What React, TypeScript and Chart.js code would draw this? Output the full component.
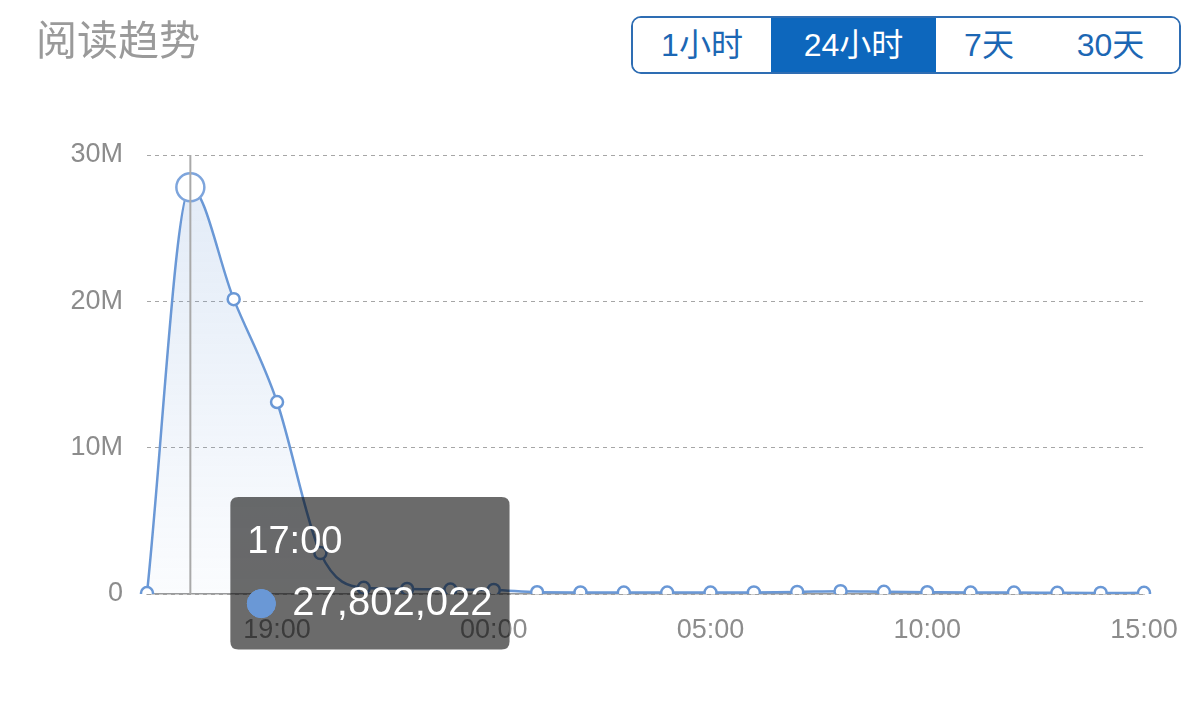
import React, { useEffect, useRef } from "react";
import { Chart, registerables, Tooltip } from "chart.js";

Chart.register(...registerables);

// ---- data ----
const hours = [
  "16:00", "17:00", "18:00", "19:00", "20:00", "21:00", "22:00", "23:00",
  "00:00", "01:00", "02:00", "03:00", "04:00", "05:00", "06:00", "07:00",
  "08:00", "09:00", "10:00", "11:00", "12:00", "13:00", "14:00", "15:00",
];
const readCounts = [
  60000, 27802022, 20150000, 13120000, 2800000, 420000, 350000, 300000,
  280000, 120000, 110000, 100000, 100000, 100000, 110000, 140000,
  190000, 150000, 120000, 100000, 100000, 80000, 70000, 80000,
];
const shownXLabels = ["19:00", "00:00", "05:00", "10:00", "15:00"];
const yTickValues = [0, 10000000, 20000000, 30000000];
const yTickLabels = ["0", "10M", "20M", "30M"];
const rangeButtons = ["1小时", "24小时", "7天", "30天"];
const activeRange = "24小时";
const activeIndex = 1;

const LINE = "#6a98d6";
const FONT = '"Liberation Sans", "Noto Sans CJK SC", sans-serif';

(Tooltip as any).positioners.besidePoint = function (elements: any[]) {
  if (!elements.length) return false;
  const el = elements[0].element;
  const ca = this.chart.chartArea;
  return { x: el.x + 40 + 8, y: ca.bottom - 97 };
};

const crosshair = {
  id: "crosshair",
  afterDatasetsDraw(chart: any) {
    const act = chart.getActiveElements();
    if (!act.length) return;
    const x = act[0].element.x;
    const { top, bottom } = chart.chartArea;
    const ctx = chart.ctx;
    ctx.save();
    ctx.strokeStyle = "#a9a9a9";
    ctx.lineWidth = 2;
    ctx.beginPath();
    ctx.moveTo(x, top);
    ctx.lineTo(x, bottom);
    ctx.stroke();
    ctx.restore();
  },
};

export default function App() {
  const ref = useRef<HTMLCanvasElement | null>(null);

  useEffect(() => {
    if (!ref.current) return;
    const chart = new Chart(ref.current, {
      type: "line",
      data: {
        labels: hours,
        datasets: [
          {
            label: "阅读",
            data: readCounts,
            borderColor: LINE,
            borderWidth: 2.5,
            fill: "origin",
            backgroundColor: (ctx: any) => {
              const c = ctx.chart;
              const ca = c.chartArea;
              if (!ca) return "rgba(106,152,214,0.1)";
              const g = c.ctx.createLinearGradient(0, ca.top, 0, ca.bottom);
              g.addColorStop(0, "rgba(106,152,214,0.2)");
              g.addColorStop(1, "rgba(106,152,214,0.03)");
              return g;
            },
            cubicInterpolationMode: "monotone",
            pointRadius: 6,
            pointBorderWidth: 2.5,
            pointBackgroundColor: "#ffffff",
            pointBorderColor: LINE,
            pointHoverRadius: 14,
            pointHoverBorderWidth: 2.5,
            pointHoverBackgroundColor: "#ffffff",
            pointHoverBorderColor: "#7ea5dc",
          } as any,
        ],
      },
      options: {
        responsive: true,
        maintainAspectRatio: false,
        animation: false,
        events: [],
        layout: { padding: { top: 155, right: 56, left: 0, bottom: 0 } },
        plugins: {
          legend: { display: false },
          title: { display: false },
          tooltip: {
            enabled: true,
            position: "besidePoint" as any,
            xAlign: "left",
            yAlign: "top",
            caretSize: 0,
            caretPadding: 0,
            cornerRadius: 8,
            backgroundColor: "rgba(0,0,0,0.58)",
            padding: { top: 23, bottom: 22, left: 17, right: 17 },
            titleFont: { family: FONT, size: 38, weight: "normal" },
            bodyFont: { family: FONT, size: 40 },
            titleColor: "#ffffff",
            bodyColor: "#ffffff",
            titleMarginBottom: 14,
            displayColors: true,
            usePointStyle: true,
            boxWidth: 28,
            boxHeight: 28,
            boxPadding: 15,
            multiKeyBackground: LINE,
            callbacks: {
              title: (items: any[]) => hours[items[0].dataIndex],
              label: (item: any) => readCounts[item.dataIndex].toLocaleString("en-US"),
              labelColor: () => ({ borderColor: LINE, backgroundColor: LINE }),
              labelPointStyle: () => ({ pointStyle: "circle", rotation: 0 }),
            },
          },
        },
        scales: {
          x: {
            type: "category",
            offset: false,
            afterFit: (s: any) => {
              s.height = 123;
            },
            grid: { display: false, drawTicks: false },
            border: { display: true, color: "#9a9a9a", width: 1.5 },
            ticks: {
              autoSkip: false,
              maxRotation: 0,
              minRotation: 0,
              padding: 20,
              color: "#8c8c8c",
              font: { family: FONT, size: 27 },
              callback: (_v: any, i: number) =>
                shownXLabels.includes(hours[i]) ? hours[i] : "",
            },
          },
          y: {
            min: 0,
            max: 30000000,
            afterFit: (s: any) => {
              s.width = 147;
            },
            afterBuildTicks: (s: any) => {
              s.ticks = yTickValues.map((v) => ({ value: v }));
            },
            grid: { color: "#a6a6a6", lineWidth: 1, drawTicks: false },
            border: { display: false, dash: [4, 4] },
            ticks: {
              padding: 24,
              color: "#8c8c8c",
              font: { family: FONT, size: 27 },
              callback: (v: any) => {
                const i = yTickValues.indexOf(Number(v));
                return i >= 0 ? yTickLabels[i] : "";
              },
            },
          },
        },
      } as any,
      plugins: [crosshair],
    });

    const act = [{ datasetIndex: 0, index: activeIndex }];
    chart.setActiveElements(act);
    chart.tooltip?.setActiveElements(act, { x: 0, y: 0 });
    chart.update();

    return () => chart.destroy();
  }, []);

  const widths = [138, 165, 106, 137];

  return (
    <div
      style={{
        position: "absolute",
        left: 0,
        top: 0,
        width: 1200,
        height: 717,
        background: "#ffffff",
        overflow: "hidden",
      }}
    >
      <div style={{ position: "absolute", left: 0, top: 0, width: 1200, height: 717 }}>
        <canvas ref={ref} />
      </div>
      <div
        style={{
          position: "absolute",
          left: 36,
          top: 21,
          fontFamily: FONT,
          fontSize: 41,
          lineHeight: "41px",
          color: "#9a9a9a",
          whiteSpace: "nowrap",
        }}
      >
        阅读趋势
      </div>
      <div
        style={{
          position: "absolute",
          left: 631,
          top: 16,
          height: 54,
          display: "flex",
          border: "2px solid #2e6db3",
          borderRadius: 10,
          overflow: "hidden",
          fontFamily: FONT,
          fontSize: 32,
        }}
      >
        {rangeButtons.map((b, i) => {
          const on = b === activeRange;
          return (
            <div
              key={b}
              style={{
                width: widths[i],
                height: 54,
                lineHeight: "54px",
                textAlign: "center",
                background: on ? "#0d67bd" : "#ffffff",
                color: on ? "#ffffff" : "#1c67b4",
                whiteSpace: "nowrap",
              }}
            >
              {b}
            </div>
          );
        })}
      </div>
    </div>
  );
}
